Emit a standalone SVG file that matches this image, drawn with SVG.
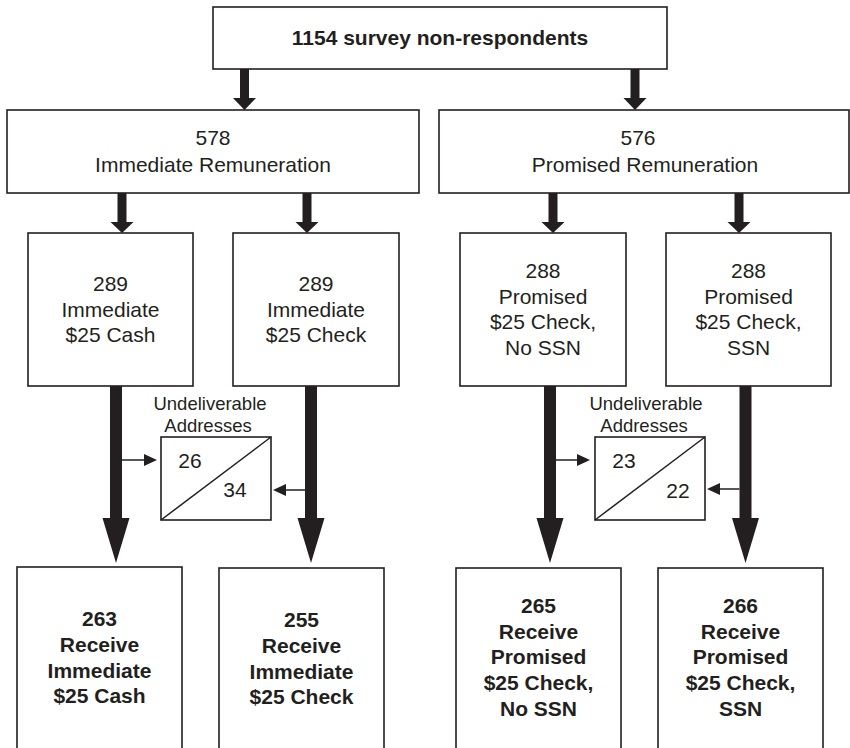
<svg xmlns="http://www.w3.org/2000/svg" width="850" height="748" viewBox="0 0 850 748">
<defs>
<style>
.box{fill:#fff;stroke:#231f20;stroke-width:1.6}
.t{font-family:"Liberation Sans",Arial,sans-serif;font-size:21px;fill:#231f20;text-anchor:middle}
.b{font-weight:bold}
.s{font-size:18.5px}
.arr{fill:#231f20}
.ln{stroke:#231f20;stroke-width:1.5;fill:none}
</style>
</defs>
<rect width="850" height="748" fill="#fff"/>
<g id="connectors">
<!-- top to level 2 -->
<path class="arr" d="M240,69 h9 v29 h7 l-11.5,12 l-11.5,-12 h7 z"/>
<path class="arr" d="M630.5,69 h9 v29 h7 l-11.5,12 l-11.5,-12 h7 z"/>
<!-- level 2 to level 3 -->
<path class="arr" d="M117.5,193 h9 v29 h7 l-11.5,11 l-11.5,-11 h7 z"/>
<path class="arr" d="M302.5,193 h9 v29 h7 l-11.5,11 l-11.5,-11 h7 z"/>
<path class="arr" d="M548.5,193 h9 v29 h7 l-11.5,11 l-11.5,-11 h7 z"/>
<path class="arr" d="M734.5,193 h9 v29 h7 l-11.5,11 l-11.5,-11 h7 z"/>
<!-- level 3 to bottom -->
<path class="arr" d="M110,386 h12 v132 h7.5 l-13.5,45 l-13.5,-45 h7.5 z"/>
<path class="arr" d="M305,386 h12 v132 h7.5 l-13.5,45 l-13.5,-45 h7.5 z"/>
<path class="arr" d="M544,386 h12 v132 h7.5 l-13.5,45 l-13.5,-45 h7.5 z"/>
<path class="arr" d="M739.5,386 h12 v132 h7.5 l-13.5,45 l-13.5,-45 h7.5 z"/>
<!-- undeliverable small arrows -->
<line class="ln" x1="122" y1="460" x2="145" y2="460"/>
<path class="arr" d="M157,460 l-13,-6 v12 z"/>
<line class="ln" x1="305" y1="490" x2="285" y2="490"/>
<path class="arr" d="M273,490 l13,-6 v12 z"/>
<line class="ln" x1="556" y1="460" x2="578" y2="460"/>
<path class="arr" d="M590,460 l-13,-6 v12 z"/>
<line class="ln" x1="739.5" y1="489" x2="720" y2="489"/>
<path class="arr" d="M707,489 l13,-6 v12 z"/>
</g>
<g id="n-top">
<rect class="box" x="213" y="7" width="454" height="62"/>
<text class="t b" x="440" y="45">1154 survey non-respondents</text>
</g>
<g id="n-immediate">
<rect class="box" x="7" y="110" width="412" height="83"/>
<text class="t" x="213" y="145">578</text>
<text class="t" x="213" y="172">Immediate Remuneration</text>
</g>
<g id="n-promised">
<rect class="box" x="439" y="110" width="410" height="83"/>
<text class="t" x="638" y="145">576</text>
<text class="t" x="645" y="172">Promised Remuneration</text>
</g>
<g id="n-cash">
<rect class="box" x="28" y="233" width="165" height="153"/>
<text class="t" x="110.5" y="291">289</text>
<text class="t" x="110.5" y="317">Immediate</text>
<text class="t" x="110.5" y="342">$25 Cash</text>
</g>
<g id="n-check">
<rect class="box" x="233" y="233" width="166" height="153"/>
<text class="t" x="316" y="291">289</text>
<text class="t" x="316" y="317">Immediate</text>
<text class="t" x="316" y="342">$25 Check</text>
</g>
<g id="n-nossn">
<rect class="box" x="460" y="233" width="166" height="153"/>
<text class="t" x="543" y="278">288</text>
<text class="t" x="543" y="304">Promised</text>
<text class="t" x="543" y="329">$25 Check,</text>
<text class="t" x="543" y="355">No SSN</text>
</g>
<g id="n-ssn">
<rect class="box" x="666" y="233" width="165" height="153"/>
<text class="t" x="748.5" y="278">288</text>
<text class="t" x="748.5" y="304">Promised</text>
<text class="t" x="748.5" y="329">$25 Check,</text>
<text class="t" x="748.5" y="355">SSN</text>
</g>
<g id="n-undeliv-left">
<text class="t s" x="210" y="410">Undeliverable</text>
<text class="t s" x="208" y="432">Addresses</text>
<rect class="box" x="161" y="437" width="110" height="83"/>
<line class="ln" x1="161" y1="520" x2="271" y2="437" stroke-width="1.2"/>
<text class="t" x="190" y="468">26</text>
<text class="t" x="235" y="497">34</text>
</g>
<g id="n-undeliv-right">
<text class="t s" x="646" y="410">Undeliverable</text>
<text class="t s" x="644" y="432">Addresses</text>
<rect class="box" x="595" y="437" width="110" height="83"/>
<line class="ln" x1="595" y1="520" x2="705" y2="437" stroke-width="1.2"/>
<text class="t" x="624" y="468">23</text>
<text class="t" x="678" y="498">22</text>
</g>
<g id="n-recv-cash">
<rect class="box" x="17" y="567" width="165" height="200"/>
<text class="t b" x="99.5" y="626">263</text>
<text class="t b" x="99.5" y="652">Receive</text>
<text class="t b" x="99.5" y="678">Immediate</text>
<text class="t b" x="99.5" y="703">$25 Cash</text>
</g>
<g id="n-recv-check">
<rect class="box" x="219" y="568" width="165" height="200"/>
<text class="t b" x="301.5" y="627">255</text>
<text class="t b" x="301.5" y="653">Receive</text>
<text class="t b" x="301.5" y="679">Immediate</text>
<text class="t b" x="301.5" y="704">$25 Check</text>
</g>
<g id="n-recv-nossn">
<rect class="box" x="456" y="568" width="165" height="200"/>
<text class="t b" x="538.5" y="613">265</text>
<text class="t b" x="538.5" y="639">Receive</text>
<text class="t b" x="538.5" y="664">Promised</text>
<text class="t b" x="538.5" y="690">$25 Check,</text>
<text class="t b" x="538.5" y="716">No SSN</text>
</g>
<g id="n-recv-ssn">
<rect class="box" x="658" y="568" width="165" height="200"/>
<text class="t b" x="740.5" y="613">266</text>
<text class="t b" x="740.5" y="639">Receive</text>
<text class="t b" x="740.5" y="664">Promised</text>
<text class="t b" x="740.5" y="690">$25 Check,</text>
<text class="t b" x="740.5" y="716">SSN</text>
</g>
</svg>
